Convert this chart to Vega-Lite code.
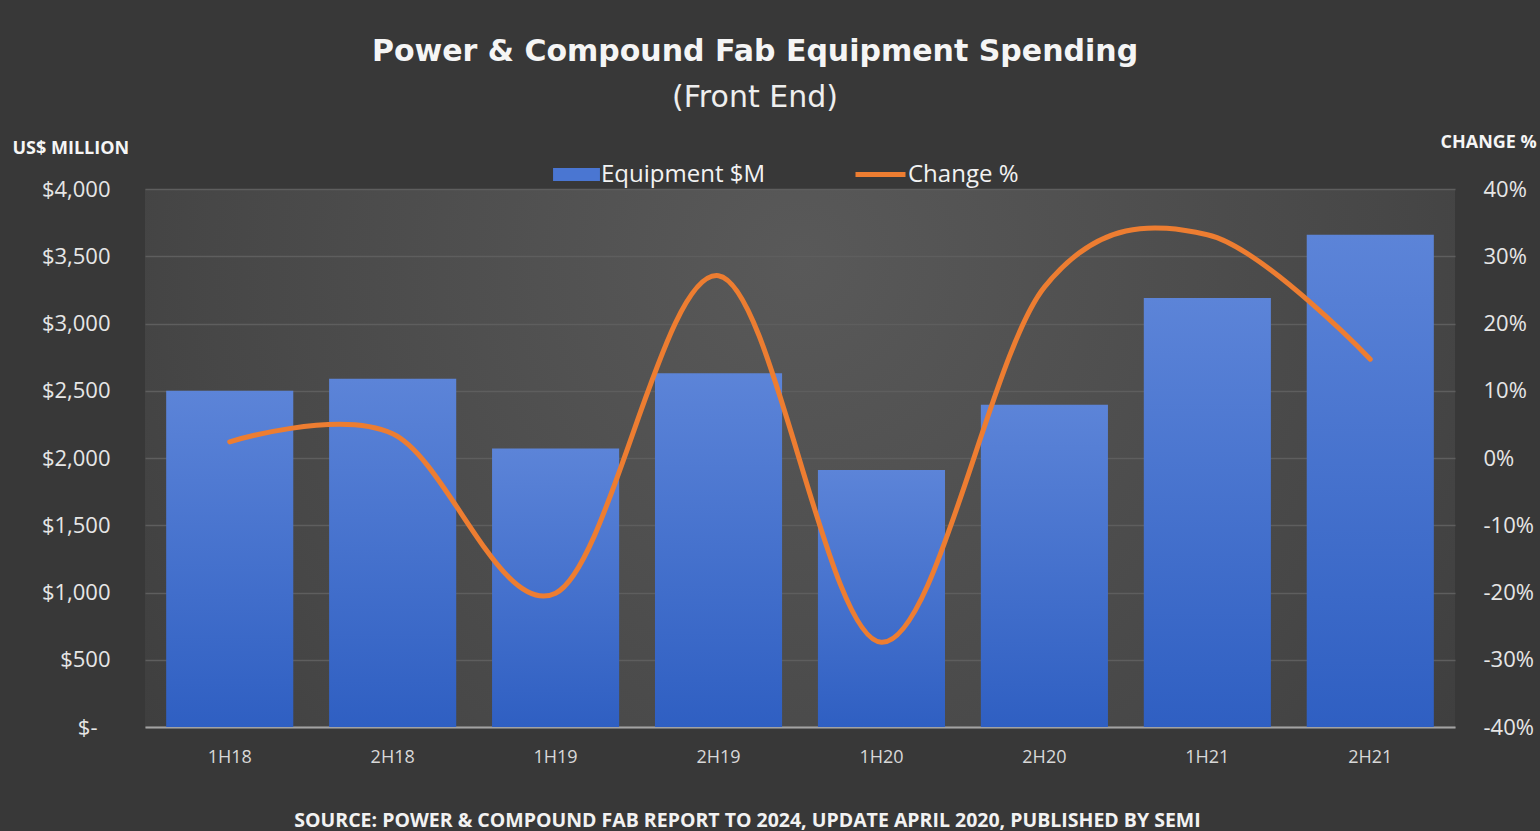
{
  "$schema": "https://vega.github.io/schema/vega-lite/v6.json",
  "width": 1310,
  "height": 538,
  "autosize": {"type": "none"},
  "padding": {"left": 145, "top": 189, "right": 85, "bottom": 104},
  "background": "#383838",
  "title": {
    "text": "Power & Compound Fab Equipment Spending",
    "subtitle": "(Front End)",
    "anchor": "middle",
    "dx": -45,
    "offset": 20,
    "font": "DejaVu Sans",
    "fontSize": 30,
    "fontWeight": "bold",
    "color": "#f5f5f5",
    "subtitleFont": "DejaVu Sans",
    "subtitleFontSize": 30,
    "subtitleColor": "#eeeeee",
    "subtitlePadding": 16
  },
  "config": {
    "view": {
      "stroke": null,
      "fill": {
        "gradient": "radial",
        "x1": 0.5, "y1": 0.35, "r1": 0,
        "x2": 0.5, "y2": 0.35, "r2": 0.75,
        "stops": [
          {"offset": 0, "color": "#595959"},
          {"offset": 0.6, "color": "#474747"},
          {"offset": 1, "color": "#383838"}
        ]
      }
    },
    "font": "Open Sans"
  },
  "data": {
    "values": [
      {"period": "1H18", "equipment": 2500, "change": 0.024},
      {"period": "2H18", "equipment": 2590, "change": 0.036},
      {"period": "1H19", "equipment": 2070, "change": -0.201},
      {"period": "2H19", "equipment": 2630, "change": 0.271},
      {"period": "1H20", "equipment": 1910, "change": -0.274},
      {"period": "2H20", "equipment": 2395, "change": 0.254},
      {"period": "1H21", "equipment": 3190, "change": 0.332},
      {"period": "2H21", "equipment": 3660, "change": 0.147}
    ]
  },
  "encoding": {
    "x": {
      "field": "period",
      "type": "nominal",
      "sort": null,
      "scale": {"paddingInner": 0.22, "paddingOuter": 0.13},
      "axis": {
        "title": "SOURCE: POWER & COMPOUND FAB REPORT TO 2024, UPDATE APRIL 2020, PUBLISHED BY SEMI",
        "titleFont": "Open Sans",
        "titleFontWeight": "bold",
        "titleFontSize": 19.5,
        "titleColor": "#f2f2f2",
        "titleX": 602,
        "titleY": 93,
        "titleAlign": "center",
        "titleBaseline": "middle",
        "labelAngle": 0,
        "labelFontSize": 18,
        "labelColor": "#d8d8d8",
        "labelPadding": 21,
        "ticks": false,
        "domainColor": "#a3a3a3",
        "domainWidth": 2,
        "grid": false
      }
    }
  },
  "layer": [
    {
      "mark": {
        "type": "bar",
        "fill": {
          "gradient": "linear",
          "x1": 0, "y1": 0, "x2": 0, "y2": 1,
          "stops": [
            {"offset": 0, "color": "#5c84d8"},
            {"offset": 1, "color": "#2f5fc2"}
          ]
        }
      },
      "encoding": {
        "y": {
          "field": "equipment",
          "type": "quantitative",
          "scale": {"domain": [0, 4000]},
          "axis": {
            "orient": "left",
            "values": [0, 500, 1000, 1500, 2000, 2500, 3000, 3500, 4000],
            "labelExpr": "datum.value == 0 ? '$-' : '$' + format(datum.value, ',')",
            "labelFontSize": 22,
            "labelColor": "#e6e6e6",
            "labelPadding": {"condition": {"test": "datum.value == 0", "value": 48}, "value": 35},
            "ticks": false,
            "domain": false,
            "grid": true,
            "gridColor": "#5e5e5e",
            "gridWidth": 1.5,
            "title": "US$ MILLION",
            "titleAngle": 0,
            "titleAlign": "left",
            "titleBaseline": "middle",
            "titleX": -133,
            "titleY": -41,
            "titleFontSize": 18,
            "titleFontWeight": "bold",
            "titleColor": "#f5f5f5"
          }
        },
        "color": {
          "datum": "Equipment $M",
          "type": "nominal",
          "scale": {"range": ["#4a76d2"]},
          "legend": {
            "orient": "none",
            "legendX": 408,
            "legendY": -38,
            "title": null,
            "symbolType": "M-1,-0.28H1V0.28H-1Z",
            "symbolSize": 2200,
            "symbolStrokeWidth": 0,
            "labelFontSize": 24,
            "labelLimit": 400,
            "labelColor": "#f2f2f2",
            "labelOffset": 1
          }
        }
      }
    },
    {
      "mark": {"type": "line", "interpolate": "cardinal", "strokeWidth": 5, "strokeCap": "round"},
      "encoding": {
        "y": {
          "field": "change",
          "type": "quantitative",
          "scale": {"domain": [-0.4, 0.4]},
          "axis": {
            "orient": "right",
            "values": [-0.4, -0.3, -0.2, -0.1, 0, 0.1, 0.2, 0.3, 0.4],
            "labelExpr": "replace(format(datum.value, '.0%'), '\u2212', '-')",
            "labelFontSize": 22,
            "labelColor": "#e6e6e6",
            "labelPadding": 28,
            "ticks": false,
            "domain": false,
            "grid": false,
            "title": "CHANGE %",
            "titleAngle": 0,
            "titleAlign": "left",
            "titleBaseline": "middle",
            "titleX": -15,
            "titleY": -47,
            "titleFontSize": 18,
            "titleFontWeight": "bold",
            "titleColor": "#f5f5f5"
          }
        },
        "stroke": {
          "datum": "Change %",
          "type": "nominal",
          "scale": {"range": ["#ED7D31"]},
          "legend": {
            "orient": "none",
            "legendX": 708,
            "legendY": -42,
            "title": null,
            "symbolType": "stroke",
            "symbolSize": 2500,
            "symbolStrokeWidth": 5,
            "labelFontSize": 24,
            "labelLimit": 400,
            "labelColor": "#f2f2f2",
            "labelOffset": 0
          }
        }
      }
    }
  ],
  "resolve": {"scale": {"y": "independent"}}
}
